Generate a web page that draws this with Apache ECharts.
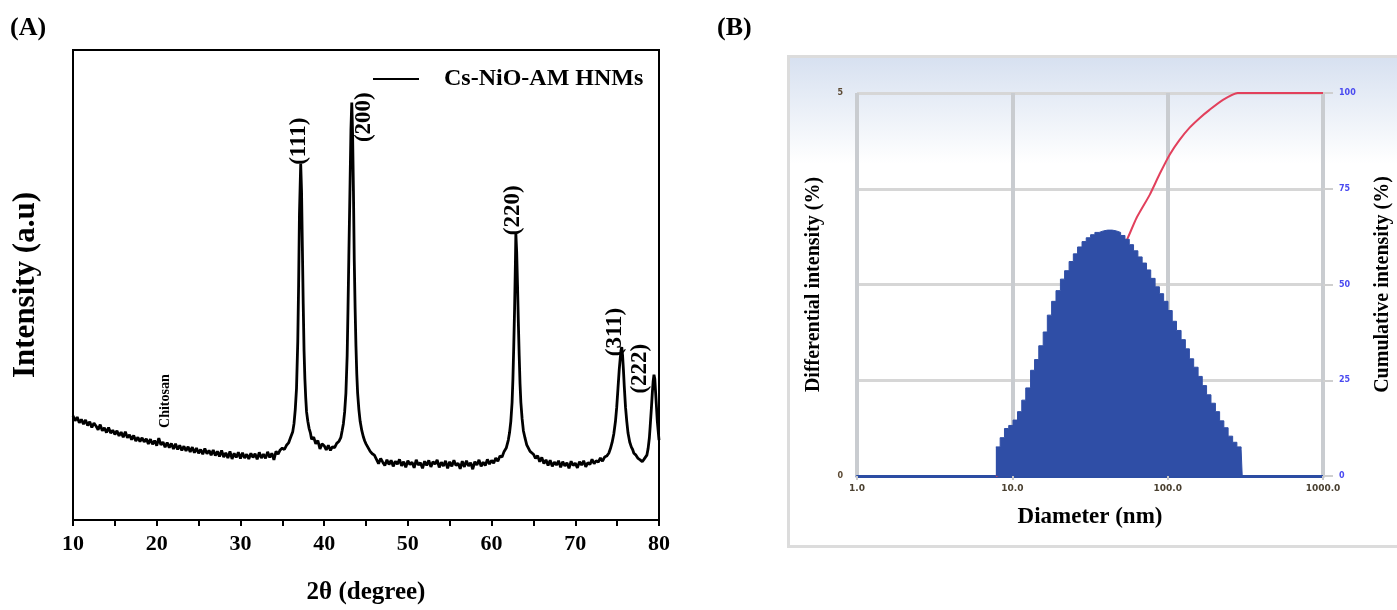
<!DOCTYPE html>
<html>
<head>
<meta charset="utf-8">
<script src="https://cdn.jsdelivr.net/npm/echarts@6/dist/echarts.min.js"></script>
<style>
  body { margin: 0; background: #fff; }
  #main { width: 1397px; height: 610px; }
</style>
</head>
<body>
<div id="main"></div>
<script>
// (A) XRD 图谱
const twoTheta = [
  10.0, 10.25, 10.5, 10.75, 11.0, 11.25, 11.5, 11.75, 12.0, 12.25, 12.5, 12.75, 13.0, 13.25, 13.5, 13.75,
  14.0, 14.25, 14.5, 14.75, 15.0, 15.25, 15.5, 15.75, 16.0, 16.25, 16.5, 16.75, 17.0, 17.25, 17.5, 17.75,
  18.0, 18.25, 18.5, 18.75, 19.0, 19.25, 19.5, 19.75, 20.0, 20.25, 20.5, 20.75, 21.0, 21.25, 21.5, 21.75,
  22.0, 22.25, 22.5, 22.75, 23.0, 23.25, 23.5, 23.75, 24.0, 24.25, 24.5, 24.75, 25.0, 25.25, 25.5, 25.75,
  26.0, 26.25, 26.5, 26.75, 27.0, 27.25, 27.5, 27.75, 28.0, 28.25, 28.5, 28.75, 29.0, 29.25, 29.5, 29.75,
  30.0, 30.25, 30.5, 30.75, 31.0, 31.25, 31.5, 31.75, 32.0, 32.25, 32.5, 32.75, 33.0, 33.25, 33.5, 33.75,
  34.0, 34.25, 34.5, 34.75, 35.0, 35.25, 35.5, 35.75, 36.0, 36.25, 36.4, 36.55, 36.7, 36.85, 36.95, 37.05,
  37.2, 37.3, 37.4, 37.5, 37.6, 37.7, 37.8, 37.9, 38.05, 38.2, 38.35, 38.5, 38.75, 39.0, 39.25, 39.5,
  39.75, 40.0, 40.25, 40.5, 40.75, 41.0, 41.25, 41.5, 41.75, 42.0, 42.15, 42.3, 42.45, 42.6, 42.75, 42.85,
  42.95, 43.1, 43.2, 43.3, 43.4, 43.5, 43.6, 43.7, 43.8, 43.9, 44.0, 44.15, 44.3, 44.5, 44.7, 44.85,
  45.0, 45.25, 45.5, 45.75, 46.0, 46.25, 46.5, 46.75, 47.0, 47.25, 47.5, 47.75, 48.0, 48.25, 48.5, 48.75,
  49.0, 49.25, 49.5, 49.75, 50.0, 50.25, 50.5, 50.75, 51.0, 51.25, 51.5, 51.75, 52.0, 52.25, 52.5, 52.75,
  53.0, 53.25, 53.5, 53.75, 54.0, 54.25, 54.5, 54.75, 55.0, 55.25, 55.5, 55.75, 56.0, 56.25, 56.5, 56.75,
  57.0, 57.25, 57.5, 57.75, 58.0, 58.25, 58.5, 58.75, 59.0, 59.25, 59.5, 59.75, 60.0, 60.25, 60.5, 60.75,
  61.0, 61.25, 61.5, 61.75, 62.0, 62.15, 62.3, 62.45, 62.55, 62.65, 62.75, 62.85, 62.9, 63.0, 63.1, 63.2,
  63.3, 63.4, 63.5, 63.65, 63.8, 64.0, 64.2, 64.4, 64.6, 64.8, 65.0, 65.25, 65.5, 65.75, 66.0, 66.25,
  66.5, 66.75, 67.0, 67.25, 67.5, 67.75, 68.0, 68.25, 68.5, 68.75, 69.0, 69.25, 69.5, 69.75, 70.0, 70.25,
  70.5, 70.75, 71.0, 71.25, 71.5, 71.75, 72.0, 72.25, 72.5, 72.75, 73.0, 73.25, 73.5, 73.75, 74.0, 74.2,
  74.4, 74.6, 74.8, 74.95, 75.1, 75.25, 75.35, 75.45, 75.55, 75.65, 75.75, 75.85, 76.0, 76.15, 76.3, 76.5,
  76.7, 76.85, 77.0, 77.25, 77.5, 77.75, 78.0, 78.2, 78.4, 78.55, 78.7, 78.85, 78.95, 79.1, 79.2, 79.3,
  79.4, 79.5, 79.6, 79.7, 79.8, 79.9, 80.0
]
const intensity = [
  22.2, 21.1, 21.9, 20.7, 21.4, 20.4, 21.3, 20.1, 20.9, 19.7, 20.6, 20.0, 19.2, 20.3, 19.0, 19.6,
  18.6, 19.7, 18.5, 19.1, 18.2, 19.0, 17.9, 18.7, 17.6, 18.8, 17.5, 18.1, 17.1, 18.0, 16.8, 17.6,
  16.7, 17.5, 16.6, 17.3, 16.2, 17.2, 16.1, 16.9, 15.8, 17.4, 16.0, 16.6, 15.5, 16.5, 15.4, 16.3,
  15.1, 16.2, 15.0, 15.9, 14.8, 15.7, 14.7, 15.6, 14.5, 15.5, 14.3, 15.3, 14.2, 15.0, 14.0, 15.2,
  14.1, 14.8, 13.8, 14.9, 13.7, 14.6, 13.5, 14.8, 13.4, 14.3, 13.2, 14.6, 13.0, 14.2, 13.3, 14.4,
  13.1, 14.3, 13.2, 14.0, 13.0, 14.2, 13.3, 14.1, 12.9, 14.4, 13.2, 14.0, 13.1, 14.5, 13.3, 14.2,
  12.8, 14.6, 14.0, 14.9, 15.3, 15.0, 15.9, 16.4, 17.6, 18.8, 20.5, 23.5, 28, 38, 50, 65,
  75.8, 70, 58, 46, 36, 30, 26, 23, 21, 19.5, 18.6, 17.2, 17.6, 16.2, 16.9, 15.1,
  16.2, 15.8, 14.9, 15.9, 14.8, 15.6, 15.4, 16.3, 16.7, 17.6, 19.0, 20.5, 23, 27, 35, 45,
  56, 72, 83, 88.8, 82, 70, 55, 45, 37, 31, 27, 23.5, 21, 19, 17.6, 16.8,
  16.2, 15.4, 14.6, 14.1, 13.8, 12.9, 12.0, 13.1, 12.3, 11.6, 12.8, 11.8, 12.7, 11.4, 12.5, 11.9,
  12.9, 11.5, 12.4, 11.2, 12.6, 11.8, 12.3, 11.1, 12.8, 11.7, 12.2, 11.0, 12.5, 11.6, 12.7, 11.3,
  12.4, 11.9, 12.8, 11.2, 12.3, 11.5, 12.6, 11.0, 12.4, 11.4, 12.7, 11.6, 12.1, 10.9, 12.5, 11.3,
  12.6, 11.5, 12.2, 10.8, 12.4, 11.7, 12.8, 11.4, 12.3, 11.6, 12.9, 11.9, 12.7, 12.1, 13.2, 12.5,
  13.6, 13.4, 14.6, 15.3, 17.0, 18.6, 21, 25, 30, 37, 45, 55, 61, 57, 50, 42,
  35, 29, 25, 21.5, 19, 17.4, 16, 15.6, 14.6, 14.9, 14.0, 13.1, 13.7, 12.4, 13.3, 12.0,
  12.8, 11.6, 12.7, 11.4, 12.3, 11.7, 12.6, 11.2, 12.4, 11.5, 12.2, 11.0, 12.5, 11.6, 12.1, 11.1,
  12.4, 11.7, 12.6, 11.3, 12.2, 11.8, 12.9, 12.0, 12.6, 12.3, 13.2, 12.5, 13.4, 13.6, 14.2, 15.2,
  16.5, 18.3, 21, 24, 28, 32, 34, 36, 36.8, 35, 32, 28.5, 24, 21, 18.5, 16.6,
  15.5, 15.0, 14.2, 13.8, 13.1, 12.8, 12.4, 12.9, 13.0, 13.8, 15.2, 17.5, 20, 24, 27, 29.5,
  30.9, 30, 27, 24, 21, 19, 17
]
// 峰的标注 (位置 2θ, 高度)
const peakNames = ['(111)', '(200)', '(220)', '(311)', '(222)', 'Chitosan']
const peakAngle = [37.0, 44.8, 62.6, 74.7, 77.7, 21.0]
const peakLevel = [80.6, 85.7, 65.9, 40.0, 32.2, 25.3]
const xrdTicks = [10, 20, 30, 40, 50, 60, 70, 80]

// (B) 粒径分布
const diameter = [
  7.83, 8.35, 8.90, 9.48, 10.1, 10.8, 11.5, 12.2, 13.1, 13.9, 14.8, 15.8, 16.8, 17.9, 19.1, 20.4,
  21.7, 23.2, 24.7, 26.3, 28.1, 29.9, 31.9, 34.0, 36.2, 38.6, 41.1, 43.9, 46.7, 49.8, 53.1, 56.6,
  60.3, 64.3, 68.5, 73.1, 77.8, 83.0, 88.5, 94.2, 100.5, 107, 114, 122, 130, 138, 147, 157,
  167, 178, 190, 203, 216, 230, 245, 262, 279, 297, 302
]
const diffIntensity = [
  0.38, 0.50, 0.62, 0.66, 0.73, 0.84, 0.99, 1.15, 1.38, 1.52, 1.70, 1.88, 2.10, 2.28, 2.42, 2.57,
  2.68, 2.80, 2.90, 2.99, 3.06, 3.11, 3.15, 3.18, 3.20, 3.21, 3.21, 3.20, 3.18, 3.14, 3.09, 3.02,
  2.94, 2.86, 2.78, 2.69, 2.58, 2.47, 2.38, 2.28, 2.16, 2.02, 1.90, 1.78, 1.66, 1.53, 1.42, 1.30,
  1.18, 1.06, 0.95, 0.84, 0.72, 0.63, 0.52, 0.44, 0.38, 0.35, 0
]
const cumDiameter = [7.83, 10, 15, 20, 30, 40, 55.3, 62.9, 76.6, 88.9, 103, 119, 138, 161, 186, 227, 282, 500, 1000]
const cumIntensity = [0, 2, 10, 20, 37, 50, 62.1, 67.3, 73.4, 78.9, 83.9, 87.7, 90.9, 93.5, 95.6, 98.2, 100, 100, 100]

const serif = 'Liberation Serif'
const myChart = echarts.init(document.querySelector('#main'))

const option = {
  backgroundColor: '#fff',
  animation: false,
  graphic: [
    // 右图的背景面板
    {
      type: 'rect',
      left: 787, top: 55, z: -10,
      shape: { width: 640, height: 490 },
      style: {
        stroke: '#dcdcdc', lineWidth: 3,
        fill: new echarts.graphic.LinearGradient(0, 0, 0, 1, [
          { offset: 0, color: '#d6e0f0' },
          { offset: 0.22, color: '#ffffff' },
          { offset: 1, color: '#ffffff' }
        ])
      }
    },
    { type: 'text', left: 10, top: 15, style: { text: '(A)', font: 'bold 26px ' + serif, fill: '#000' } },
    { type: 'text', left: 717, top: 15, style: { text: '(B)', font: 'bold 26px ' + serif, fill: '#000' } }
  ],
  legend: {
    data: ['Cs-NiO-AM HNMs'],
    left: 368, top: 62,
    icon: 'rect',
    itemWidth: 46, itemHeight: 2,
    textStyle: { fontFamily: serif, fontWeight: 'bold', fontSize: 24, color: '#000', padding: [0, 0, 0, 20] }
  },
  grid: [
    { left: 73, top: 50, width: 586, height: 475, show: true, borderColor: '#000', borderWidth: 2 },
    { left: 857, top: 93, width: 466, height: 383 }
  ],
  xAxis: [
    {
      gridIndex: 0, type: 'value', min: 10, max: 80, interval: 10,
      name: '2θ (degree)', nameLocation: 'middle', nameGap: 60,
      nameTextStyle: { fontFamily: serif, fontWeight: 'bold', fontSize: 25, color: '#000' },
      axisLine: { lineStyle: { color: '#000', width: 2 } },
      axisTick: { inside: false, length: 6, lineStyle: { color: '#000', width: 2 } },
      minorTick: { show: true, splitNumber: 2, length: 6, lineStyle: { color: '#000', width: 2 } },
      axisLabel: {
        margin: 13, fontFamily: serif, fontWeight: 'bold', fontSize: 22, color: '#000',
        customValues: xrdTicks
      },
      splitLine: { show: false }
    },
    {
      gridIndex: 1, type: 'log', logBase: 10, min: 1, max: 1000,
      name: 'Diameter (nm)', nameLocation: 'middle', nameGap: 30,
      nameTextStyle: { fontFamily: serif, fontWeight: 'bold', fontSize: 23, color: '#000' },
      axisLine: { lineStyle: { color: '#2c4da3', width: 3 } },
      axisTick: { length: 4, lineStyle: { color: '#c8c8c8', width: 2 } },
      axisLabel: {
        margin: 8, fontFamily: 'DejaVu Sans', fontWeight: 'bold', fontSize: 9, color: '#4a4030',
        formatter: v => v.toFixed(1)
      },
      splitLine: { show: true, lineStyle: { color: '#c9ccd0', width: 4 } }
    }
  ],
  yAxis: [
    {
      gridIndex: 0, type: 'value', min: 0, max: 100,
      name: 'Intensity (a.u)', nameLocation: 'middle', nameGap: 32,
      nameTextStyle: { fontFamily: serif, fontWeight: 'bold', fontSize: 31, color: '#000' },
      axisLine: { show: true, lineStyle: { color: '#000', width: 2 } },
      axisTick: { show: false },
      axisLabel: { show: false },
      splitLine: { show: false }
    },
    {
      gridIndex: 1, type: 'value', min: 0, max: 5, interval: 5,
      name: 'Differential intensity (%)', nameLocation: 'middle', nameGap: 33,
      nameTextStyle: { fontFamily: serif, fontWeight: 'bold', fontSize: 20, color: '#000' },
      axisLine: { show: false },
      axisTick: { show: false },
      axisLabel: { margin: 14, fontFamily: 'DejaVu Sans', fontWeight: 'bold', fontSize: 8, color: '#5c4a34' },
      splitLine: { show: false }
    },
    {
      gridIndex: 1, type: 'value', min: 0, max: 100, interval: 25, position: 'right',
      name: 'Cumulative intensity (%)', nameLocation: 'middle', nameGap: 50,
      nameRotate: 90,
      nameTextStyle: { fontFamily: serif, fontWeight: 'bold', fontSize: 20, color: '#000' },
      axisLine: { show: false },
      axisTick: { show: true, length: 10, lineStyle: { color: '#cfcfcf', width: 2 } },
      axisLabel: { margin: 16, fontFamily: 'DejaVu Sans', fontWeight: 'bold', fontSize: 8, color: '#4a4af0' },
      splitLine: { show: true, lineStyle: { color: '#d6d6d6', width: 3 } }
    }
  ],
  series: [
    {
      name: 'Cs-NiO-AM HNMs',
      type: 'line',
      xAxisIndex: 0, yAxisIndex: 0,
      symbol: 'none',
      lineStyle: { color: '#000', width: 2.8 },
      itemStyle: { color: '#000' },
      data: twoTheta.map((v, i) => [v, intensity[i]])
    },
    {
      // 峰的标注
      name: 'peaks',
      type: 'scatter',
      xAxisIndex: 0, yAxisIndex: 0,
      symbolSize: 1,
      silent: true,
      itemStyle: { color: 'rgba(0,0,0,0)' },
      label: {
        show: true, position: 'inside', rotate: 90,
        fontFamily: serif, fontWeight: 'bold', color: '#000',
        textBorderWidth: 0, opacity: 1,
        formatter: p => p.data.name
      },
      data: peakNames.map((n, i) => ({
        name: n,
        value: [peakAngle[i], peakLevel[i]],
        label: { fontSize: n === 'Chitosan' ? 14 : 23 }
      }))
    },
    {
      name: 'cumulative',
      type: 'line',
      xAxisIndex: 1, yAxisIndex: 2,
      symbol: 'none', smooth: 0.2, z: 2,
      lineStyle: { color: '#e2405c', width: 2 },
      data: cumDiameter.map((v, i) => [v, cumIntensity[i]])
    },
    {
      name: 'differential',
      type: 'line',
      xAxisIndex: 1, yAxisIndex: 1,
      symbol: 'none', step: 'end', z: 3,
      lineStyle: { color: '#2f4ea6', width: 1 },
      areaStyle: { color: '#2f4ea6', opacity: 1 },
      data: diameter.map((v, i) => [v, diffIntensity[i]])
    }
  ]
}

myChart.setOption(option)
</script>
</body>
</html>
